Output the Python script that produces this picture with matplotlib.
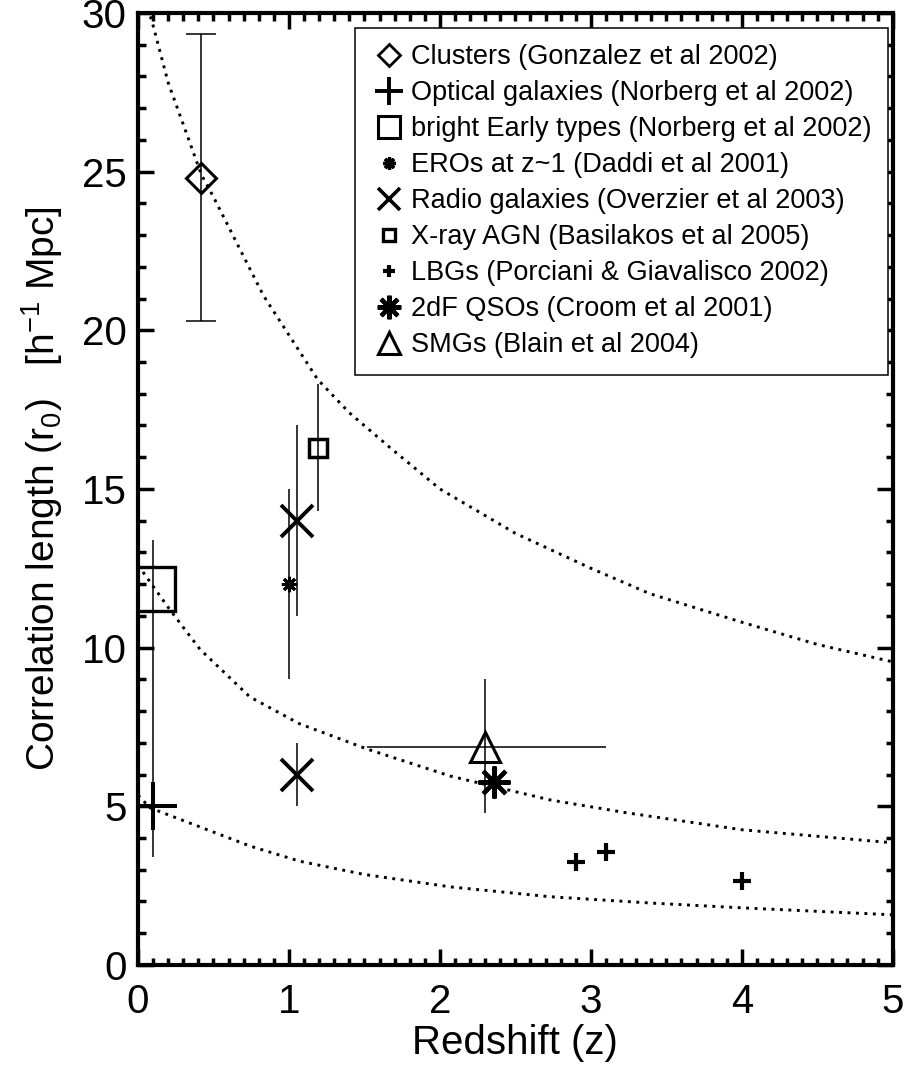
import matplotlib
matplotlib.use('Agg')
import matplotlib.pyplot as plt
from matplotlib.lines import Line2D
from matplotlib.ticker import MultipleLocator

plt.rcParams['font.family'] = ['Liberation Sans', 'DejaVu Sans']
plt.rcParams['mathtext.fontset'] = 'custom'
plt.rcParams['mathtext.rm'] = 'Liberation Sans'
plt.rcParams['mathtext.it'] = 'Liberation Sans:italic'

# data (z, r0, lower end, upper end of error bar)
clus_z, clus_r, clus_lo, clus_hi = [0.42], [24.8], [20.3], [29.35]
opt_z, opt_r, opt_lo, opt_hi = [0.1], [5.0], [3.4], [6.6]
early_z, early_r, early_lo, early_hi = [0.1], [11.85], [6.6], [13.4]
ero_z, ero_r, ero_lo, ero_hi = [1.0], [12.0], [9.0], [15.0]
radio_z = [1.05, 1.05]
radio_r = [14.0, 6.0]
radio_lo = [11.0, 5.0]
radio_hi = [17.0, 7.0]
xray_z, xray_r, xray_lo, xray_hi = [1.19], [16.3], [14.3], [18.3]
lbg_z = [2.9, 3.1, 4.0]
lbg_r = [3.25, 3.56, 2.65]
qso_z, qso_r = [2.36], [5.77]
smg_z, smg_r, smg_lo, smg_hi = [2.30], [6.87], [4.8], [9.0]
smg_zlo, smg_zhi = [1.52], [3.1]

# dotted model curves
top_z = [0.05, 0.1, 0.2, 0.42, 0.5, 0.83, 1.19, 1.4, 1.67, 2.0, 2.5, 3.0, 3.39, 4.0, 4.5, 5.0]
top_r = [30.4, 29.6, 27.8, 24.9, 24.2, 21.1, 18.45, 17.4, 16.3, 15.0, 13.6, 12.5, 11.7, 10.8, 10.1, 9.55]
mid_z = [0.0, 0.03, 0.21, 0.41, 0.74, 1.07, 1.52, 2.07, 2.73, 3.23, 4.0, 5.0]
mid_r = [12.6, 12.4, 11.2, 9.95, 8.45, 7.6, 6.8, 5.95, 5.2, 4.8, 4.26, 3.85]
low_z = [0.0, 0.08, 0.41, 0.74, 1.07, 1.5, 2.07, 2.73, 3.4, 4.0, 5.0]
low_r = [5.35, 4.95, 4.35, 3.75, 3.27, 2.85, 2.46, 2.15, 1.95, 1.8, 1.58]

labels = ['Clusters (Gonzalez et al 2002)',
          'Optical galaxies (Norberg et al 2002)',
          'bright Early types (Norberg et al 2002)',
          'EROs at z~1 (Daddi et al 2001)',
          'Radio galaxies (Overzier et al 2003)',
          'X-ray AGN (Basilakos et al 2005)',
          'LBGs (Porciani & Giavalisco 2002)',
          '2dF QSOs (Croom et al 2001)',
          'SMGs (Blain et al 2004)']


def yerr(r, lo, hi):
    return [[a - b for a, b in zip(r, lo)], [b - a for a, b in zip(r, hi)]]


fig = plt.figure(figsize=(9.11, 10.76), dpi=100)
ax = fig.add_axes([0.1515, 0.1032, 0.8285, 0.8848])

dot = (0, (1, 1.9))
for zz, rr in [(top_z, top_r), (mid_z, mid_r), (low_z, low_r)]:
    ax.plot(zz, rr, color='k', lw=2.1, ls=dot)

eb = dict(fmt='none', ecolor='k', elinewidth=1.1)
ax.errorbar(clus_z, clus_r, yerr=yerr(clus_r, clus_lo, clus_hi), capsize=11, capthick=1.1, **eb)
ax.errorbar(opt_z, opt_r, yerr=yerr(opt_r, opt_lo, opt_hi), **eb)
ax.errorbar(early_z, early_r, yerr=yerr(early_r, early_lo, early_hi), **eb)
ax.errorbar(ero_z, ero_r, yerr=yerr(ero_r, ero_lo, ero_hi), **eb)
ax.errorbar(radio_z, radio_r, yerr=yerr(radio_r, radio_lo, radio_hi), **eb)
ax.errorbar(xray_z, xray_r, yerr=yerr(xray_r, xray_lo, xray_hi), **eb)
ax.errorbar(smg_z, smg_r, yerr=yerr(smg_r, smg_lo, smg_hi),
            xerr=yerr(smg_z, smg_zlo, smg_zhi), **eb)

mk = dict(ls='none', color='k', mfc='none', mec='k')
ax.plot(clus_z, clus_r, marker='D', ms=15, mew=2.2, **mk)
ax.plot(opt_z, opt_r, marker='+', ms=34, mew=2.9, **mk)
ax.plot(early_z, early_r, marker='s', ms=31, mew=2.4, **mk)
ax.plot(ero_z, ero_r, marker=(8, 2, 0), ms=11, mew=2.2, **mk)
ax.plot(radio_z, radio_r, marker='x', ms=23, mew=2.8, **mk)
ax.plot(xray_z, xray_r, marker='s', ms=13.5, mew=2.5, **mk)
ax.plot(lbg_z, lbg_r, marker='+', ms=13, mew=3, **mk)
ax.plot(qso_z, qso_r, marker=(8, 2, 0), ms=23, mew=3, **mk)
ax.plot(smg_z, smg_r, marker='^', ms=22, mew=2.2, **mk)

ax.set_xlim(0, 5)
ax.set_ylim(0, 30)
ax.xaxis.set_major_locator(MultipleLocator(1))
ax.xaxis.set_minor_locator(MultipleLocator(0.1))
ax.yaxis.set_major_locator(MultipleLocator(5))
ax.yaxis.set_minor_locator(MultipleLocator(1))
ax.tick_params(which='both', direction='in', top=True, right=True, width=2.5, labelsize=29)
ax.tick_params(which='major', length=11.5)
ax.tick_params(which='minor', length=5.4)
ax.tick_params(axis='y', pad=8)
ax.tick_params(axis='x', pad=13)
for s in ax.spines.values():
    s.set_linewidth(3)

ax.set_xlabel('Redshift (z)', fontsize=29, labelpad=2)
ax.set_ylabel(r'Correlation length (r$_{0}$)   [h$^{-1}$ Mpc]', fontsize=28, labelpad=12)

# legend proxies (smaller markers than in the plot)
leg_style = [('D', 11, 2.0), ('+', 20, 2.8), ('s', 15.5, 2.2), ((8, 2, 0), 9, 2.4),
             ('x', 16, 2.6), ('s', 9, 2.4), ('+', 8.6, 3), ((8, 2, 0), 17, 3), ('^', 16, 2.2)]
handles = [Line2D([], [], ls='none', marker=m, ms=s, mew=w, mfc='none', mec='k', color='k')
           for m, s, w in leg_style]
leg = ax.legend(handles, labels, loc='upper right', bbox_to_anchor=(888 / 911, 1 - 28 / 1076),
                bbox_transform=fig.transFigure, borderaxespad=0, fontsize=19.5,
                frameon=True, fancybox=False, edgecolor='k', framealpha=1,
                handlelength=1.33, handletextpad=0.15, labelspacing=0.37, borderpad=0.6)
leg.get_frame().set_linewidth(1.1)

plt.savefig('out.png', dpi=100)
